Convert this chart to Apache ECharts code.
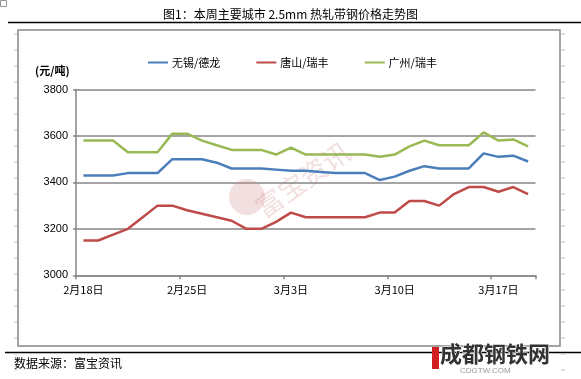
<!DOCTYPE html>
<html>
<head>
<meta charset="utf-8">
<script src="https://cdn.jsdelivr.net/npm/echarts@6/dist/echarts.min.js"></script>
<style>html,body{margin:0;padding:0;background:#fff;}#c{width:581px;height:379px;}</style>
</head>
<body>
<div id="c"></div>
<script>
// ---- data ----
const dates = [
  '2月18日','2月19日','2月20日','2月21日','2月22日','2月23日','2月24日',
  '2月25日','2月26日','2月27日','2月28日','2月29日','3月1日','3月2日',
  '3月3日','3月4日','3月5日','3月6日','3月7日','3月8日','3月9日',
  '3月10日','3月11日','3月12日','3月13日','3月14日','3月15日','3月16日',
  '3月17日','3月18日','3月19日'
];
const seriesNames = ['无锡/德龙', '唐山/瑞丰', '广州/瑞丰'];
const wuxi = [3430,3430,3430,3440,3440,3440,3500,3500,3500,3485,3460,3460,3460,3455,3450,3450,3445,3440,3440,3440,3410,3425,3450,3470,3460,3460,3460,3525,3510,3515,3490];
const tangshan = [3150,3150,3175,3200,3250,3300,3300,3280,3265,3250,3235,3200,3200,3230,3270,3250,3250,3250,3250,3250,3270,3270,3320,3320,3300,3350,3380,3380,3360,3380,3350];
const guangzhou = [3580,3580,3580,3530,3530,3530,3610,3610,3580,3560,3540,3540,3540,3520,3550,3520,3520,3520,3520,3520,3510,3520,3555,3580,3560,3560,3560,3615,3580,3585,3555];
const yMin = 3000, yMax = 3800, yStep = 200;
const titleText = '图1：本周主要城市 2.5mm 热轧带钢价格走势图';
const unitText = '(元/吨)';
const sourceText = '数据来源：富宝资讯';

// ---- chart ----
const colors = ['#4a7ebb', '#be4b48', '#98b954'];
const cjk = '"Noto Sans CJK SC", "Liberation Sans", sans-serif';
const num = '"Liberation Sans", Arial, sans-serif';
const chart = echarts.init(document.getElementById('c'), null, {renderer: 'canvas'});

const dashes = [];
for (let y = 34; y < 379; y += 16) {
  dashes.push({type: 'line', shape: {x1: 14, y1: y, x2: 17, y2: y}, style: {stroke: '#b4c2d2', lineWidth: 1}, silent: true});
  dashes.push({type: 'line', shape: {x1: 561, y1: y, x2: 565, y2: y}, style: {stroke: '#b4c2d2', lineWidth: 1}, silent: true});
}

const mk = (name, data, i) => ({
  name, type: 'line', data, symbol: 'none', smooth: false,
  lineStyle: {color: colors[i], width: 2.5}, itemStyle: {color: colors[i]}, z: 3 + i
});

chart.setOption({
  animation: false,
  backgroundColor: '#fff',
  title: {
    text: titleText, left: 'center', top: 3,
    textStyle: {fontFamily: cjk, fontSize: 12, fontWeight: 'normal', color: '#000'}
  },
  legend: {
    data: seriesNames, left: 143, top: 52, itemWidth: 20, itemHeight: 2, itemGap: 36,
    icon: 'rect',
    textStyle: {fontFamily: cjk, fontSize: 11, color: '#000', padding: [0,0,0,-1]}
  },
  grid: {left: 76, right: 45.5, top: 89.5, bottom: 103.7, containLabel: false},
  xAxis: {
    type: 'category', data: dates, boundaryGap: true,
    axisLine: {lineStyle: {color: '#868686', width: 1.5}},
    axisTick: {show: true, length: 4, interval: 6, lineStyle: {color: '#868686', width: 1.5}},
    axisLabel: {interval: 6, fontFamily: cjk, fontSize: 11, color: '#000', margin: 9},
    splitLine: {show: false}
  },
  yAxis: {
    type: 'value', min: yMin, max: yMax, interval: yStep,
    axisLine: {show: true, lineStyle: {color: '#868686', width: 1.5}},
    axisTick: {show: true, length: 3, lineStyle: {color: '#868686', width: 1.5}},
    axisLabel: {fontFamily: num, fontSize: 11, color: '#000', margin: 8, formatter: v => String(v)},
    splitLine: {show: true, lineStyle: {color: '#868686', width: 1.5}}
  },
  series: [mk(seriesNames[0], wuxi, 0), mk(seriesNames[1], tangshan, 1), mk(seriesNames[2], guangzhou, 2)],
  graphic: [
    // document lines and frame
    {type: 'rect', shape: {x: 0.5, y: 0.5, width: 6, height: 6}, style: {fill: 'none', stroke: '#999', lineWidth: 1}, silent: true},
    {type: 'line', shape: {x1: 8, y1: 22.5, x2: 581, y2: 22.5}, style: {stroke: '#000', lineWidth: 1.5}, silent: true},
    {type: 'rect', shape: {x: 18, y: 30, width: 542, height: 316}, style: {fill: 'none', stroke: '#868686', lineWidth: 1.5}, silent: true, z: -1},
    {type: 'line', shape: {x1: 5, y1: 352.5, x2: 581, y2: 352.5}, style: {stroke: '#000', lineWidth: 1.5}, silent: true},
    ...dashes,
    // unit label
    {type: 'text', x: 35, y: 65, style: {text: unitText, font: 'bold 11px ' + cjk, fill: '#000'}, silent: true},
    // watermark
    {type: 'circle', shape: {cx: 247, cy: 197, r: 18}, style: {fill: 'rgba(210,140,140,0.28)'}, silent: true, z: 1},
    {type: 'group', x: 280, y: 196, rotation: Math.PI * 35 / 180, silent: true, z: 1, children: [
      {type: 'text', x: -26, y: -14, style: {text: '富宝资讯', font: '27px ' + cjk, fill: 'rgba(210,140,140,0.28)'}}
    ]},
    // source text
    {type: 'text', x: 14, y: 357, style: {text: sourceText, font: '12px ' + cjk, fill: '#000'}, silent: true},
    // site logo
    {type: 'rect', shape: {x: 432, y: 347, width: 7, height: 22}, style: {fill: '#d21f1f'}, silent: true},
    {type: 'text', x: 440, y: 343, style: {text: '成都钢铁网', font: 'bold 22px ' + cjk, fill: '#333', stroke: '#fff', lineWidth: 1}, silent: true},
    {type: 'text', x: 460, y: 367, style: {text: 'CDGTW.COM', font: '8px ' + num, fill: '#999'}, silent: true}
  ]
});
</script>
</body>
</html>
